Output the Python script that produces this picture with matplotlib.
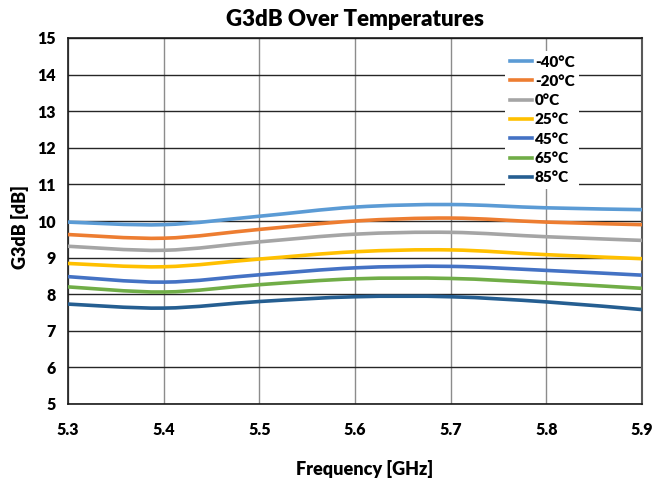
import matplotlib
matplotlib.use("Agg")
import matplotlib.pyplot as plt
from matplotlib.path import Path
from matplotlib.patches import PathPatch
from matplotlib.lines import Line2D
import numpy as np

freq = [5.3, 5.4, 5.5, 5.6, 5.7, 5.8, 5.9]
labels = ["-40°C", "-20°C", "0°C", "25°C", "45°C", "65°C", "85°C"]
g_m40 = [9.97, 9.90, 10.13, 10.38, 10.45, 10.36, 10.31]
g_m20 = [9.63, 9.53, 9.77, 10.00, 10.08, 9.97, 9.90]
g_0 = [9.31, 9.20, 9.43, 9.64, 9.69, 9.57, 9.47]
g_25 = [8.84, 8.75, 8.96, 9.16, 9.21, 9.08, 8.97]
g_45 = [8.48, 8.33, 8.53, 8.72, 8.76, 8.65, 8.52]
g_65 = [8.20, 8.06, 8.26, 8.42, 8.43, 8.31, 8.16]
g_85 = [7.73, 7.62, 7.80, 7.93, 7.93, 7.79, 7.58]
series = [g_m40, g_m20, g_0, g_25, g_45, g_65, g_85]
colors = ["#5B9BD5", "#ED7D31", "#A5A5A5", "#FFC000", "#4472C4", "#70AD47", "#255E91"]

plt.rcParams['font.family'] = ['Lato', 'DejaVu Sans']

fig = plt.figure(figsize=(6.56, 4.8), dpi=100)
ax = fig.add_axes([68 / 656, 1 - 404 / 480, (642 - 68) / 656, (404 - 38) / 480])


def smooth_path(x, y):
    pts = np.column_stack([x, y]).astype(float)
    n = len(pts)
    verts = [pts[0]]
    codes = [Path.MOVETO]
    for i in range(n - 1):
        p0 = pts[i - 1] if i > 0 else pts[i]
        p1 = pts[i]
        p2 = pts[i + 1]
        p3 = pts[i + 2] if i + 2 < n else pts[i + 1]
        c1 = p1 + (p2 - p0) / 6.0
        c2 = p2 - (p3 - p1) / 6.0
        verts += [c1, c2, p2]
        codes += [Path.CURVE4] * 3
    return Path(verts, codes)


handles = []
for vals, c, lab in zip(series, colors, labels):
    patch = PathPatch(smooth_path(freq, vals), facecolor='none', edgecolor=c,
                      lw=2.6, capstyle='round', joinstyle='round', zorder=3)
    ax.add_patch(patch)
    handles.append(Line2D([], [], color=c, lw=2.6, label=lab))

ax.set_xlim(5.3, 5.9)
ax.set_ylim(5, 15)
ax.set_xticks(freq)
ax.set_xticklabels([f"{v:.1f}" for v in freq])
ax.set_yticks(range(5, 16))
ax.tick_params(length=0, labelsize=11.5, pad=9)
ax.tick_params(axis='x', pad=13)
for t in ax.get_xticklabels() + ax.get_yticklabels():
    t.set_fontweight('heavy')

ax.grid(axis='y', color='#262626', lw=1.0, zorder=1)
ax.grid(axis='x', color='#8C8C8C', lw=1.0, zorder=1)
for s in ['left', 'bottom', 'top']:
    ax.spines[s].set_color('#1a1a1a')
    ax.spines[s].set_linewidth(1.2)
ax.spines['right'].set_color('#595959')
ax.spines['right'].set_linewidth(1.5)

ax.set_title("G3dB Over Temperatures", fontsize=16, fontweight='heavy', pad=9)
ax.set_xlabel("Frequency [GHz]", fontsize=13, fontweight='heavy', va='center')
ax.xaxis.set_label_coords((365 - 68) / 574, -(469 - 404) / 366)
ax.set_ylabel("G3dB [dB]", fontsize=13, fontweight='heavy', va='center')
ax.yaxis.set_label_coords((20 - 68) / 574, 1 - (227 - 38) / 366)

leg = ax.legend(handles=handles, loc='upper left',
                bbox_to_anchor=((505 - 68) / 574, 1 - (51 - 38) / 366),
                frameon=True, fancybox=False, edgecolor='none', framealpha=1,
                prop={'weight': 'heavy', 'size': 11}, handlelength=1.45,
                handletextpad=0.2, labelspacing=0.41, borderpad=0.3,
                borderaxespad=0)
leg.set_zorder(5)

fig.savefig("out.png", dpi=100)
